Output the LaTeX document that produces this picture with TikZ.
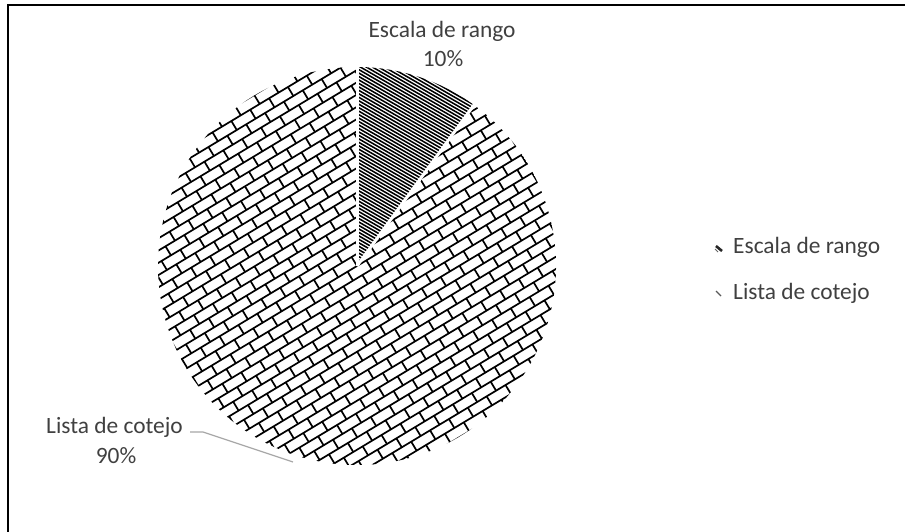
\documentclass[tikz,border=0pt]{standalone}
\usepackage{fontspec}
\usetikzlibrary{calc}
\setmainfont{Carlito}
\definecolor{txt}{HTML}{404040}
\definecolor{leadc}{HTML}{A6A6A6}
\tikzset{
  lbl/.style={text=txt, font=\fontsize{23.4}{28}\selectfont, inner sep=0pt},
  stripe/.style={line width=1.55pt, black},
  brick/.style={line width=1.7pt, black},
  sep/.style={white, line width=3pt},
  leader/.style={leadc, line width=1.2pt}
}
\begin{document}
\begin{tikzpicture}[x=1pt,y=1pt]
\useasboundingbox (0,0) rectangle (905,531);
% frame
\draw[line width=2pt] (8,526) rectangle (930,-20);
\coordinate (c) at (357,265);
% slice 1: 10%
\begin{scope}
  \clip (c) -- ++(90:199) arc[start angle=90,end angle=54,radius=199] -- cycle;
  \begin{scope}[shift={(357,265)}, rotate=-30]
    \draw[stripe] \foreach \k in {-75,...,75} {(-215,\k*3) -- (215,\k*3)};
  \end{scope}
\end{scope}
% slice 2: 90%
\begin{scope}
  \clip (c) -- ++(54:199) arc[start angle=54,end angle=-90,radius=199]
        arc[start angle=-90,end angle=-270,radius=199] -- cycle;
  \begin{scope}[shift={(357,265)}, rotate=31]
    \foreach \i in {-24,...,24} {
      \pgfmathsetmacro\yy{\i*10.5}
      \pgfmathsetmacro\yt{\i*10.5+10.5}
      \pgfmathsetmacro\off{mod(\i+40,2)*11}
      \draw[brick] (-260,\yy) -- (260,\yy);
      \foreach \j in {-13,...,13} {
        \pgfmathsetmacro\xx{\j*22+\off}
        \draw[brick] (\xx,\yy) -- (\xx,\yt);
      }
    }
  \end{scope}
\end{scope}
% slice separators
\coordinate (r1) at ($(c)+(90:200)$);
\coordinate (r2) at ($(c)+(54:200)$);
\draw[sep] (c) -- (r1);
\draw[sep] (c) -- (r2);
% data labels
\node[lbl, anchor=base] (t1) at (442,493.3) {Escala de rango};
\node[lbl, anchor=base] (t2) at (443,464.3) {10\%};
\node[lbl, anchor=base] (t3) at (114.5,98) {Lista de cotejo};
\node[lbl, anchor=base] (t4) at (116,68) {90\%};
% leader line
\coordinate (la) at (190,99);
\coordinate (lb) at (203,99);
\coordinate (lc) at (293,69);
\draw[leader] (la) -- (lb) -- (lc);
% legend
\node[lbl, anchor=base west] (g1) at (733,277) {Escala de rango};
\node[lbl, anchor=base west] (g2) at (733,232) {Lista de cotejo};
\coordinate (m1a) at (716,285);
\coordinate (m1b) at (722,280);
\draw[line width=2.6pt, black!85] (m1a) -- (m1b);
\draw[line width=1pt, black!60] (715,282) -- (718,279);
\coordinate (m2a) at (716,240);
\coordinate (m2b) at (721,235);
\draw[line width=1.3pt, black!65] (m2a) -- (m2b);
\end{tikzpicture}
\end{document}
